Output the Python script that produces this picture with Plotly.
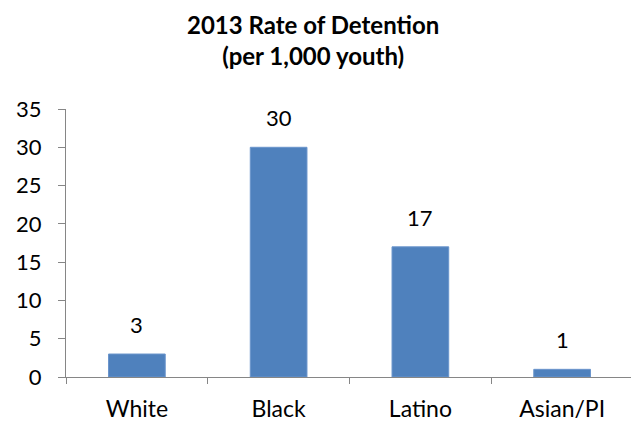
import plotly.graph_objects as go

categories = ["White", "Black", "Latino", "Asian/PI"]
values = [3, 30, 17, 1]
y_ticks = [0, 5, 10, 15, 20, 25, 30, 35]

FONT = "Lato"
fig = go.Figure(go.Bar(
    x=categories, y=values,
    marker=dict(color="#4F81BD", line=dict(color="#6A95CC", width=1)),
    width=0.4,
))
for c, v in zip(categories, values):
    fig.add_annotation(x=c, y=v, text=str(v), showarrow=False, xanchor="center",
                       yanchor="bottom", yshift=14,
                       font=dict(family=FONT, size=22, color="black"))
fig.add_annotation(text="<b>2013 Rate of Detention<br>(per 1,000 youth)</b>",
                   xref="paper", yref="paper", x=0.435, y=1, xanchor="center", yanchor="bottom",
                   yshift=37, showarrow=False,
                   font=dict(family=FONT, size=24, color="black"))
fig.update_layout(
    width=631, height=415,
    margin=dict(l=58, r=6, t=101, b=46, autoexpand=False),
    paper_bgcolor="white", plot_bgcolor="white",
    showlegend=False,
    font=dict(family=FONT, size=22, color="black"),
)
fig.update_xaxes(showline=True, linecolor="#868686", linewidth=1, automargin=False,
                 ticks="outside", tickson="boundaries", ticklen=6, tickcolor="#868686",
                 ticklabelstandoff=11,
                 tickfont=dict(family=FONT, size=23, color="black"), showgrid=False)
fig.update_yaxes(range=[0, 35], tickvals=y_ticks, showline=True, linecolor="#868686", linewidth=1,
                 automargin=False,
                 ticks="outside", ticklen=7, tickcolor="#868686", showgrid=False, zeroline=False,
                 ticklabelstandoff=12,
                 tickfont=dict(family=FONT, size=22, color="black"))
fig.write_html("out.html")
